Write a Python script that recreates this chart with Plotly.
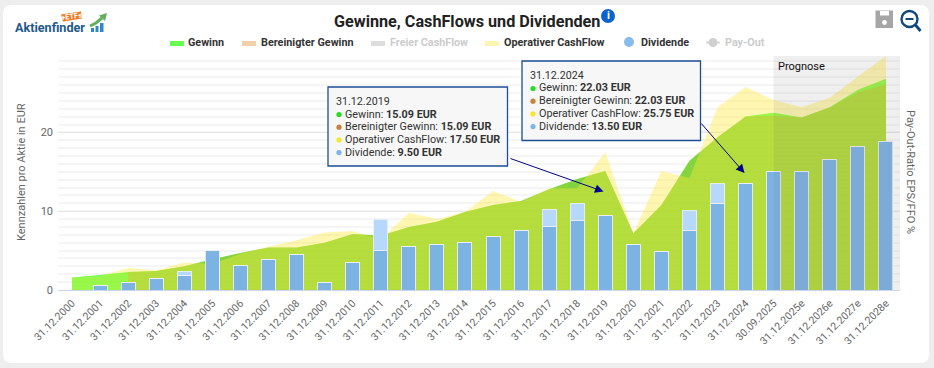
import plotly.graph_objects as go

W, H = 934, 368
L, R, T, B = 58, 900, 56, 290

categories = [f"31.12.{y}" for y in range(2000, 2025)] + [
    "30.09.2025", "31.12.2025e", "31.12.2026e", "31.12.2027e", "31.12.2028e"]
gewinn = [1.6, 1.9, 2.3, 2.4, 3.0, 3.9, 4.7, 5.4, 5.4, 6.0, 7.1, 6.9, 8.0, 8.67, 9.9, 10.8,
          11.3, 12.8, 14.1, 15.09, 7.2, 10.8, 16.4, 19.4, 22.03, 22.5, 21.9, 23.2, 25.4, 26.8]
bereinigt = [None, None, 2.3, 2.4, 3.0, 3.9, 4.7, 5.4, 5.4, 6.0, 7.1, 6.9, 8.0, 8.67, 9.9, 10.8,
             11.3, 12.8, 14.1, 15.09, 7.2, 10.8, 16.4, 19.4, 22.03, 22.1, 21.9, 23.2, 25.1, 26.1]
cashflow = [1.6, 1.8, 2.8, 2.5, 3.5, 3.3, 4.6, 5.5, 6.3, 7.3, 7.5, 6.45, 9.8, 9.0, 9.9, 12.55,
            11.2, 12.9, 12.9, 17.5, 7.2, 15.1, 14.2, 23.2, 25.75, 24.1, 23.2, 24.4, 27.1, 29.7]
dividende = [0, 0.6, 1.0, 1.4, 1.9, 5.0, 3.1, 3.9, 4.5, 1.0, 3.5, 5.0, 5.5, 5.8, 6.0, 6.8,
             7.6, 8.0, 8.8, 9.5, 5.8, 4.9, 7.6, 11.0, 13.5, 15.1, 15.1, 16.5, 18.2, 18.8]
sonder = [0, 0, 0, 0, 0.5, 0, 0, 0, 0, 0, 0, 4.0, 0, 0, 0, 0,
          0, 2.2, 2.2, 0, 0, 0, 2.5, 2.5, 0, 0, 0, 0, 0, 0]
legend_items = ["Gewinn", "Bereinigter Gewinn", "Freier CashFlow", "Operativer CashFlow", "Dividende", "Pay-Out"]
y_ticks = [0, 10, 20]
box_2019 = ["31.12.2019", ("Gewinn", "15.09 EUR", "#22dd22"), ("Bereinigter Gewinn", "15.09 EUR", "#c8803a"),
            ("Operativer CashFlow", "17.50 EUR", "#f7e733"), ("Dividende", "9.50 EUR", "#7cb5ec")]
box_2024 = ["31.12.2024", ("Gewinn", "22.03 EUR", "#22dd22"), ("Bereinigter Gewinn", "22.03 EUR", "#c8803a"),
            ("Operativer CashFlow", "25.75 EUR", "#f7e733"), ("Dividende", "13.50 EUR", "#7cb5ec")]


def xp(x):
    return (x - L) / (R - L)


def yp(y):
    return (B - y) / (B - T)


FONT = "Roboto, sans-serif"
fig = go.Figure()
fig.add_trace(go.Scatter(x=categories, y=gewinn, name="Gewinn", mode="none", fill="tozeroy",
                         fillcolor="rgba(66,255,64,0.9)"))
fig.add_trace(go.Scatter(x=categories[2:], y=bereinigt[2:], name="Bereinigter Gewinn", mode="none", fill="tozeroy",
                         fillcolor="rgba(225,125,20,0.33)"))
fig.add_trace(go.Scatter(x=categories, y=cashflow, name="Operativer CashFlow", mode="none", fill="tozeroy",
                         fillcolor="rgba(255,235,59,0.4)"))
fig.add_trace(go.Bar(x=categories, y=dividende, name="Dividende", yaxis="y2", width=0.5,
                     marker=dict(color="#7db3e3", line=dict(color="rgba(235,240,248,0.9)", width=1))))
fig.add_trace(go.Bar(x=categories, y=sonder, name="Sonderdividende", yaxis="y2", width=0.5,
                     marker=dict(color="#b5d8fb", line=dict(color="rgba(235,240,248,0.9)", width=1))))

shapes = []
ann = []


def rect(x0, y0, x1, y1, fill, line=None, lw=0, layer="above"):
    shapes.append(dict(type="rect", xref="paper", yref="paper", x0=xp(x0), x1=xp(x1), y0=yp(y0), y1=yp(y1),
                       fillcolor=fill, line=dict(color=line or fill, width=lw), layer=layer))


def circle(cx, cy, r, fill, line=None, lw=0):
    shapes.append(dict(type="circle", xref="paper", yref="paper", x0=xp(cx - r), x1=xp(cx + r), y0=yp(cy - r),
                       y1=yp(cy + r), fillcolor=fill, line=dict(color=line or fill, width=lw), layer="above"))


def seg(x0, y0, x1, y1, col, lw):
    shapes.append(dict(type="line", xref="paper", yref="paper", x0=xp(x0), x1=xp(x1), y0=yp(y0), y1=yp(y1),
                       line=dict(color=col, width=lw), layer="above"))


def path(points, fill, line="rgba(0,0,0,0)", lw=0, layer="above", close=True):
    d = "M " + " L ".join(f"{xp(a):.5f},{yp(b):.5f}" for a, b in points) + (" Z" if close else "")
    shapes.append(dict(type="path", xref="paper", yref="paper", path=d, fillcolor=fill,
                       line=dict(color=line, width=lw), layer=layer))


def text(x, y, s, size=12, color="#333", xanchor="left", angle=0):
    ann.append(dict(xref="paper", yref="paper", x=xp(x), y=yp(y), text=s, showarrow=False, xanchor=xanchor,
                    yanchor="middle", textangle=angle, align="left",
                    font=dict(family=FONT, size=size, color=color), borderpad=0, borderwidth=0))


# card
x0c, x1c, y0c, y1c, rc = 3, 929, 5, 363, 9
d = (f"M {xp(x0c+rc)},{yp(y0c)} L {xp(x1c-rc)},{yp(y0c)} Q {xp(x1c)},{yp(y0c)} {xp(x1c)},{yp(y0c+rc)} "
     f"L {xp(x1c)},{yp(y1c-rc)} Q {xp(x1c)},{yp(y1c)} {xp(x1c-rc)},{yp(y1c)} L {xp(x0c+rc)},{yp(y1c)} "
     f"Q {xp(x0c)},{yp(y1c)} {xp(x0c)},{yp(y1c-rc)} L {xp(x0c)},{yp(y0c+rc)} Q {xp(x0c)},{yp(y0c)} {xp(x0c+rc)},{yp(y0c)} Z")
shapes.append(dict(type="path", xref="paper", yref="paper", path=d, fillcolor="#ffffff", line=dict(width=0), layer="below"))

# forecast band
shapes.append(dict(type="rect", xref="x", yref="paper", x0=25, x1=29.5, y0=0, y1=1,
                   fillcolor="rgba(110,110,110,0.11)", line=dict(width=0), layer="above"))
text(778, 66.5, "Prognose", 11, "#111")

# title and icons
text(467, 21, "<b>Gewinne, CashFlows und Dividenden</b>", 16.2, "#222", "center")
circle(608, 16, 7, "#0b63ce")
text(608, 16, "<b>i</b>", 11, "#fff", "center")
rect(875.5, 10.5, 893, 28, "#a6a6a6")
rect(880, 11, 889, 15.5, "#fff")
circle(884.5, 22.5, 2.4, "#fff")
circle(909.5, 19, 8, "rgba(0,0,0,0)", "#11487f", 2.4)
seg(915.5, 25, 920.5, 31, "#11487f", 2.8)
seg(905.5, 19, 913.5, 19, "#11487f", 2)

# logo
text(14.5, 27.5, "<b>Aktienfinder</b>", 12.6, "#1d5a8a")
path([(61, 14.5), (81, 11.5), (82, 18.5), (63, 21.5)], "#f0761e")
text(71.5, 16.5, "<b>+ETFs</b>", 7.5, "#fff", "center", -8)
rect(91, 28, 94, 32, "#2f88c6")
rect(95.5, 26, 98.5, 32, "#2f88c6")
rect(100, 23, 103.5, 32, "#2f88c6")
path([(90, 26), (96, 23), (102, 18)], "rgba(0,0,0,0)", "#62ad5e", 3, close=False)
path([(99, 15.5), (107, 13), (105, 21)], "#62ad5e")

# legend
lx = [188, 261, 390, 504, 641, 725]
lc = ["#333", "#333", "#ccc", "#333", "#333", "#ccc"]
for xx, t, c in zip(lx, legend_items, lc):
    text(xx, 42.5, f"<b>{t}</b>", 10.8, c)
rect(170, 41, 184, 46, "#66ff4d")
rect(242, 41, 256, 46, "#f0d0a8")
rect(371, 41, 385, 46, "#dddddd")
rect(485, 41, 499, 46, "#fff5b0")
circle(629, 42, 5, "#88bbee")
seg(706, 42.5, 720, 42.5, "#d8d8d8", 2)
circle(713, 42.5, 4.5, "#d0d0d0")

# axis captions
text(21, 172, "Kennzahlen pro Aktie in EUR", 11, "#666", "center", -90)
text(911, 172, "Pay-Out-Ratio EPS/FFO %", 11, "#666", "center", 90)


def note(box, x0, y0, x1, y1, tip_from, tip_to):
    rect(x0, y0, x1, y1, "#f7f7f7", "#1c4e94", 1.3)
    text(x0 + 8, y0 + 14, box[0], 10.7, "#333")
    yy = y0 + 27
    for name, val, col in box[1:]:
        circle(x0 + 11, yy + 0.5, 2.6, col)
        text(x0 + 17.3, yy, f"{name}: <b>{val}</b>", 10.8, "#333")
        yy += 12.7
    ann.append(dict(xref="paper", yref="paper", axref="pixel", ayref="pixel", x=xp(tip_to[0]), y=yp(tip_to[1]),
                    ax=tip_from[0] - tip_to[0], ay=tip_from[1] - tip_to[1], text="", showarrow=True,
                    arrowhead=2, arrowsize=1.7, arrowwidth=1, arrowcolor="#00008b"))


note(box_2019, 328, 87, 507.5, 166, (509, 158), (603.5, 191.5))
note(box_2024, 522, 61, 700.5, 140.5, (700, 122), (744.5, 173))

yrange = [0, (B - T) / 7.88]
fig.update_layout(
    width=W, height=H, margin=dict(l=L, r=W - R, t=T, b=H - B), autosize=False,
    paper_bgcolor="#eeeeee", plot_bgcolor="#ffffff", showlegend=False, barmode="stack", bargap=0.5,
    font=dict(family=FONT, size=11, color="#666"),
    shapes=shapes, annotations=ann,
    xaxis=dict(type="category", categoryorder="array", categoryarray=categories, range=[-0.5, 29.5], tickangle=-45,
               showgrid=False, showline=True, linecolor="#ccd6eb", linewidth=1, ticks="", ticklabelstandoff=2,
               tickfont=dict(size=10.5, color="#666"), automargin=False, fixedrange=True),
    yaxis=dict(range=yrange, tickvals=y_ticks, showgrid=True, gridcolor="#e6e6e6", gridwidth=1, zeroline=False,
               tickfont=dict(size=11, color="#666"), ticks="", ticklabelstandoff=4, automargin=False, fixedrange=True,
               minor=dict(dtick=1, showgrid=True, gridcolor="#f5f5f5", gridwidth=1.5, ticks="")),
    yaxis2=dict(range=yrange, overlaying="y", visible=False, fixedrange=True),
)
fig.write_html("out.html", config=dict(displayModeBar=False),
               post_script="document.body.style.margin='0';document.body.style.overflow='hidden';")
